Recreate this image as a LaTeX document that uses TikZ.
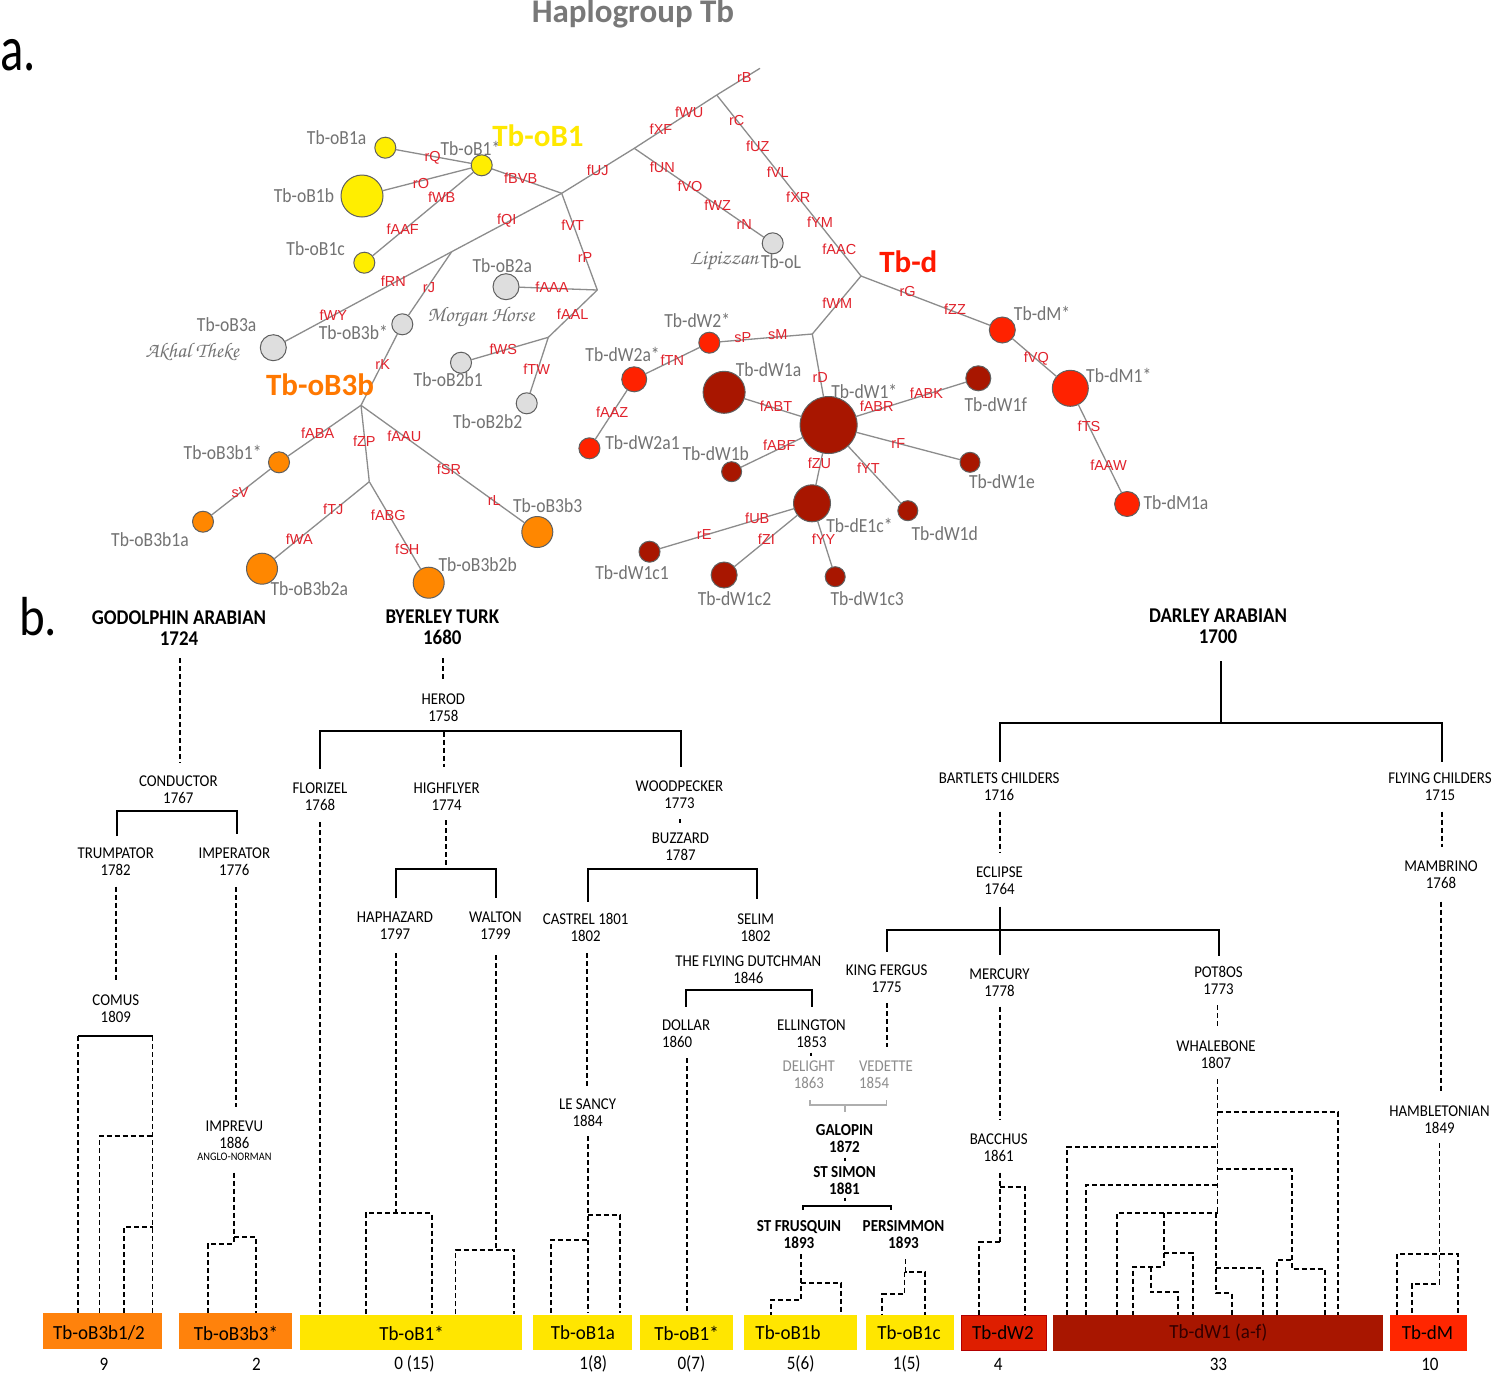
\documentclass[tikz,border=0pt]{standalone}
\usepackage[T1]{fontenc}
\usepackage{fontspec}
\setmainfont{Carlito}
\newfontfamily\calS[FakeStretch=0.88]{Carlito}
\newfontfamily\calP[FakeStretch=0.9]{Carlito}
\newfontfamily\calB[FakeStretch=0.95]{Carlito}
\newfontfamily\arialf{Liberation Sans}
\newcommand\chancery{\fontencoding{T1}\fontfamily{pzc}\fontseries{mb}\fontshape{it}\selectfont}
\definecolor{netgrey}{RGB}{140,140,140}
\definecolor{nodeb}{RGB}{95,95,95}
\definecolor{labgrey}{RGB}{115,115,115}
\definecolor{mutred}{RGB}{225,35,45}
\definecolor{cyel}{RGB}{255,238,0}
\definecolor{cgry}{RGB}{222,222,222}
\definecolor{corg}{RGB}{255,135,0}
\definecolor{cred}{RGB}{255,34,0}
\definecolor{cdrk}{RGB}{168,22,0}
\definecolor{byel}{RGB}{255,230,0}
\definecolor{borg}{RGB}{255,130,12}
\definecolor{bdw2}{RGB}{222,30,0}
\definecolor{bdm}{RGB}{255,38,0}
\definecolor{pgrey}{RGB}{140,140,140}
\definecolor{titlegrey}{RGB}{120,120,120}
\definecolor{bigyel}{RGB}{255,232,0}
\definecolor{bigorg}{RGB}{255,120,0}
\definecolor{bigred}{RGB}{255,25,0}
\tikzset{
 net/.style={draw=netgrey, line width=1.3pt},
 hap/.style={circle, draw=nodeb, line width=1pt, inner sep=0pt},
 mut/.style={text=mutred, font=\arialf\fontsize{14.5}{15}\selectfont},
 hl/.style={text=labgrey, font=\calS\fontsize{20}{22}\selectfont},
 big/.style={font=\bfseries\fontsize{31}{33}\selectfont},
 scr/.style={text=labgrey, font=\chancery\fontsize{21}{22}\selectfont},
 ped/.style={align=center, font=\calP\fontsize{16.5}{17}\selectfont},
 pedb/.style={align=center, font=\calP\bfseries\fontsize{21}{21}\selectfont},
 peds/.style={align=center, font=\calP\bfseries\fontsize{16.8}{17}\selectfont},
 sol/.style={line width=2pt},
 dsh/.style={line width=1.9pt, dash pattern=on 5pt off 3pt},
 hbox/.style={rectangle, minimum height=35.5pt},
 btxt/.style={font=\calB\fontsize{20}{20}\selectfont},
 cnt/.style={font=\calP\fontsize{19}{20}\selectfont},
}
\begin{document}
\begin{tikzpicture}[x=1pt,y=-1pt, every node/.style={inner sep=0pt, outer sep=0pt}]
\useasboundingbox (0,0) rectangle (1495,1374);
\fill[white] (0,0) rectangle (1495,1374);

% ---------- titles ----------
\node[font=\bfseries\fontsize{33}{35}\selectfont, text=titlegrey, anchor=base] (title) at (633,22) {Haplogroup Tb};
\node[font=\fontsize{64}{64}\selectfont, anchor=base west] (la) at (0,70) {\scalebox{0.76}[1]{a.}};
\node[font=\fontsize{55}{55}\selectfont, anchor=base west] (lb) at (19,635) {\scalebox{0.89}[1]{b.}};

% ---------- network nodes ----------
\node[hap, fill=cyel, minimum size=21pt] (oB1a) at (385.3,147.7) {};
\node[hap, fill=cyel, minimum size=21pt] (oB1s) at (481.7,165.3) {};
\node[hap, fill=cyel, minimum size=42pt] (oB1b) at (362,196) {};
\node[hap, fill=cyel, minimum size=21pt] (oB1c) at (364.3,262.7) {};
\node[hap, fill=cgry, minimum size=26pt] (oB2a) at (506,286.7) {};
\node[hap, fill=cgry, minimum size=21pt] (oB3bs) at (402.3,324.3) {};
\node[hap, fill=cgry, minimum size=26pt] (oB3a) at (273.3,347.7) {};
\node[hap, fill=cgry, minimum size=21pt] (oB2b1) at (461,362.7) {};
\node[hap, fill=cgry, minimum size=21pt] (oB2b2) at (526.7,403.3) {};
\node[hap, fill=corg, minimum size=21pt] (oB3b1s) at (279,462.3) {};
\node[hap, fill=corg, minimum size=21pt] (oB3b1a) at (203,521.7) {};
\node[hap, fill=corg, minimum size=31pt] (oB3b2a) at (262,568.7) {};
\node[hap, fill=corg, minimum size=31pt] (oB3b2b) at (428.7,582.7) {};
\node[hap, fill=corg, minimum size=31pt] (oB3b3) at (537.3,532) {};
\node[hap, fill=cgry, minimum size=21pt] (oL) at (772.7,243.3) {};
\node[hap, fill=cred, minimum size=26pt] (dMs) at (1002.3,330) {};
\node[hap, fill=cred, minimum size=36pt] (dM1s) at (1070.3,388.3) {};
\node[hap, fill=cred, minimum size=25pt] (dM1a) at (1127.1,504) {};
\node[hap, fill=cred, minimum size=21pt] (dW2s) at (709.3,342.7) {};
\node[hap, fill=cred, minimum size=25pt] (dW2as) at (634.2,379.3) {};
\node[hap, fill=cred, minimum size=21pt] (dW2a1) at (589.4,448.3) {};
\node[hap, fill=cdrk, minimum size=42pt] (dW1a) at (724.1,392.3) {};
\node[hap, fill=cdrk, minimum size=57pt] (dW1s) at (828.6,425) {};
\node[hap, fill=cdrk, minimum size=25pt] (dW1f) at (978.3,378.3) {};
\node[hap, fill=cdrk, minimum size=20pt] (dW1b) at (731.6,471.7) {};
\node[hap, fill=cdrk, minimum size=20pt] (dW1e) at (970,462.3) {};
\node[hap, fill=cdrk, minimum size=37pt] (dE1cs) at (812,503.3) {};
\node[hap, fill=cdrk, minimum size=20pt] (dW1d) at (907.8,510.7) {};
\node[hap, fill=cdrk, minimum size=21pt] (dW1c1) at (649.5,551.7) {};
\node[hap, fill=cdrk, minimum size=26pt] (dW1c2) at (724.1,575) {};
\node[hap, fill=cdrk, minimum size=20pt] (dW1c3) at (835.2,576.7) {};

\coordinate (J1) at (561.7,193.3);
\coordinate (J2) at (634.3,148.3);
\coordinate (J3) at (716.7,95);
\coordinate (JB) at (760,68.3);
\coordinate (J4) at (861,276);
\coordinate (J5) at (812.3,334);
\coordinate (J6) at (451.7,251.7);
\coordinate (J7) at (597.3,290);
\coordinate (J8) at (548.3,337.3);
\coordinate (J9) at (361,405.3);
\coordinate (J10) at (369.3,481.7);

% ---------- network edges ----------
\draw[net] (oB1a) -- (oB1s);
\draw[net] (oB1b) -- (oB1s);
\draw[net] (oB1c) -- (oB1s);
\draw[net] (oB1s) -- (J1);
\draw[net] (J1) -- (J2);
\draw[net] (J2) -- (J3);
\draw[net] (J3) -- (JB);
\draw[net] (J3) -- (J4);
\draw[net] (J2) -- (oL);
\draw[net] (J1) -- (J6);
\draw[net] (J6) -- (oB3a);
\draw[net] (J6) -- (oB3bs);
\draw[net] (oB3bs) -- (J9);
\draw[net] (J1) -- (J7);
\draw[net] (oB2a) -- (J7);
\draw[net] (J7) -- (J8);
\draw[net] (J8) -- (oB2b1);
\draw[net] (J8) -- (oB2b2);
\draw[net] (J9) -- (oB3b1s);
\draw[net] (oB3b1s) -- (oB3b1a);
\draw[net] (J9) -- (J10);
\draw[net] (J10) -- (oB3b2a);
\draw[net] (J10) -- (oB3b2b);
\draw[net] (J9) -- (oB3b3);
\draw[net] (J4) -- (J5);
\draw[net] (J4) -- (dMs);
\draw[net] (dMs) -- (dM1s);
\draw[net] (dM1s) -- (dM1a);
\draw[net] (J5) -- (dW2s);
\draw[net] (dW2s) -- (dW2as);
\draw[net] (dW2as) -- (dW2a1);
\draw[net] (J5) -- (dW1s);
\draw[net] (dW1s) -- (dW1a);
\draw[net] (dW1s) -- (dW1f);
\draw[net] (dW1s) -- (dW1b);
\draw[net] (dW1s) -- (dW1e);
\draw[net] (dW1s) -- (dW1d);
\draw[net] (dW1s) -- (dE1cs);
\draw[net] (dE1cs) -- (dW1c1);
\draw[net] (dE1cs) -- (dW1c2);
\draw[net] (dE1cs) -- (dW1c3);

% ---------- mutation labels ----------
\node[mut] (m1) at (432.7,157.7) {rQ};
\node[mut] (m2) at (421,183.3) {rO};
\node[mut] (m3) at (441.7,197.7) {fWB};
\node[mut] (m4) at (520.7,178.3) {fBVB};
\node[mut] (m5) at (402.7,229.3) {fAAF};
\node[mut] (m6) at (506.7,221) {fQI};
\node[mut] (m7) at (572.7,225) {fVT};
\node[mut] (m8) at (585,257.3) {rP};
\node[mut] (m9) at (552,287.7) {fAAA};
\node[mut] (m10) at (429,287.3) {rJ};
\node[mut] (m11) at (393.3,281.7) {fRN};
\node[mut] (m12) at (333.3,315) {fWY};
\node[mut] (m13) at (572.7,314) {fAAL};
\node[mut] (m14) at (597.7,170) {fUJ};
\node[mut] (m15) at (661,129.3) {fXF};
\node[mut] (m16) at (689.3,112.7) {fWU};
\node[mut] (m17) at (744.3,77.7) {rB};
\node[mut] (m18) at (736.7,120.7) {rC};
\node[mut] (m19) at (757.7,146) {fUZ};
\node[mut] (m20) at (777.7,172.7) {fVL};
\node[mut] (m21) at (798.3,197.3) {fXR};
\node[mut] (m22) at (820,222.7) {fYM};
\node[mut] (m23) at (839.3,249) {fAAC};
\node[mut] (m24) at (662.3,167.7) {fUN};
\node[mut] (m25) at (690,186) {fVO};
\node[mut] (m26) at (717.7,205) {fWZ};
\node[mut] (m27) at (744.3,224.3) {rN};
\node[mut] (m28) at (907.7,291.7) {rG};
\node[mut] (m29) at (955,309.3) {fZZ};
\node[mut] (m30) at (837.3,303.3) {fWM};
\node[mut] (m31) at (742.7,337.3) {sP};
\node[mut] (m32) at (777.7,335) {sM};
\node[mut] (m33) at (672.3,360) {fTN};
\node[mut] (m34) at (612.2,412.3) {fAAZ};
\node[mut] (m35) at (820.3,377.3) {rD};
\node[mut] (m36) at (776,406.7) {fABT};
\node[mut] (m37) at (876.7,406.7) {fABR};
\node[mut] (m38) at (926.5,393.3) {fABK};
\node[mut] (m39) at (1036.3,358.3) {fVQ};
\node[mut] (m40) at (1089,426) {fTS};
\node[mut] (m41) at (1108.5,465.7) {fAAW};
\node[mut] (m42) at (779.3,445) {fABF};
\node[mut] (m43) at (819.5,463.3) {fZU};
\node[mut] (m44) at (898.3,443.3) {rF};
\node[mut] (m45) at (868.4,468.3) {fYT};
\node[mut] (m46) at (757.3,518.3) {fUB};
\node[mut] (m47) at (704.2,535) {rE};
\node[mut] (m48) at (766.4,539.3) {fZI};
\node[mut] (m49) at (823.6,539.5) {fYY};
\node[mut] (m50) at (382.7,364.3) {rK};
\node[mut] (m51) at (503.3,349.3) {fWS};
\node[mut] (m52) at (536.7,369.3) {fTW};
\node[mut] (m53) at (317.7,433.3) {fABA};
\node[mut] (m54) at (364.3,441.7) {fZP};
\node[mut] (m55) at (404.3,436) {fAAU};
\node[mut] (m56) at (449,469.3) {fSR};
\node[mut] (m57) at (494.3,501) {rL};
\node[mut] (m58) at (240,492.3) {sV};
\node[mut] (m59) at (333.3,509.3) {fTJ};
\node[mut] (m60) at (388.3,515) {fABG};
\node[mut] (m61) at (299.3,539.3) {fWA};
\node[mut] (m62) at (407.3,549.3) {fSH};

% ---------- haplotype labels ----------
\node[hl] (hb1a) at (336.7,137.3) {Tb-oB1a};
\node[hl] (hb1s) at (470.5,148.3) {Tb-oB1*};
\node[hl] (hb1b) at (304,196) {Tb-oB1b};
\node[hl] (hb1c) at (315.7,248.7) {Tb-oB1c};
\node[hl] (hb2a) at (502.3,265.3) {Tb-oB2a};
\node[hl] (hb3a) at (226.7,325) {Tb-oB3a};
\node[hl] (hb3bs) at (353.3,332.3) {Tb-oB3b*};
\node[hl] (hb2b1) at (448.3,380) {Tb-oB2b1};
\node[hl] (hb2b2) at (487.7,422) {Tb-oB2b2};
\node[hl] (hb3b1s) at (222.7,452.7) {Tb-oB3b1*};
\node[hl] (hb3b1a) at (150,539.3) {Tb-oB3b1a};
\node[hl] (hb3b2a) at (309.3,588.3) {Tb-oB3b2a};
\node[hl] (hb3b2b) at (477.7,564.3) {Tb-oB3b2b};
\node[hl] (hb3b3) at (547.7,506) {Tb-oB3b3};
\node[hl] (hoL) at (781,261.7) {Tb-oL};
\node[hl] (hdMs) at (1042.1,313.3) {Tb-dM*};
\node[hl] (hdW2s) at (697.2,320) {Tb-dW2*};
\node[hl] (hdW2as) at (622.6,354) {Tb-dW2a*};
\node[hl] (hdW1a) at (768.5,369.3) {Tb-dW1a};
\node[hl] (hdW1s) at (864.3,391) {Tb-dW1*};
\node[hl] (hdW1f) at (995.7,405) {Tb-dW1f};
\node[hl] (hdM1s) at (1118.8,375) {Tb-dM1*};
\node[hl] (hdW2a1) at (642.5,442.7) {Tb-dW2a1};
\node[hl] (hdW1b) at (715.8,453.3) {Tb-dW1b};
\node[hl] (hdW1e) at (1001.9,481.7) {Tb-dW1e};
\node[hl] (hdE1cs) at (859.5,525) {Tb-dE1c*};
\node[hl] (hdW1d) at (944.7,534) {Tb-dW1d};
\node[hl] (hdM1a) at (1176,503) {Tb-dM1a};
\node[hl] (hdW1c1) at (632.1,572.7) {Tb-dW1c1};
\node[hl] (hdW1c2) at (734.5,598.3) {Tb-dW1c2};
\node[hl] (hdW1c3) at (867.2,598.3) {Tb-dW1c3};
\node[scr] (akhal) at (192.3,352) {Akhal Theke};
\node[scr] (morgan) at (481,317.3) {Morgan Horse};
\node[scr] (lipiz) at (724,261.7) {Lipizzan};
\node[big, text=bigyel] (bigB1) at (538,136) {Tb-oB1};
\node[big, text=bigorg] (bigB3b) at (320,384.3) {Tb-oB3b};
\node[big, text=bigred] (bigd) at (908.3,261.7) {Tb-d};

% ---------- pedigree labels ----------
\node[pedb] (godo) at (179,628) {GODOLPHIN ARABIAN\\1724};
\node[pedb] (byer) at (442.3,627.5) {BYERLEY TURK\\1680};
\node[pedb] (darl) at (1218,626.7) {DARLEY ARABIAN\\1700};
\node[ped] (herod) at (443.3,707.5) {HEROD\\1758};
\node[ped] (cond) at (178.3,789.3) {CONDUCTOR\\1767};
\node[ped] (flor) at (320,796.7) {FLORIZEL\\1768};
\node[ped] (high) at (446.7,796.7) {HIGHFLYER\\1774};
\node[ped] (wood) at (679.5,795) {WOODPECKER\\1773};
\node[ped] (buzz) at (680.5,846.5) {BUZZARD\\1787};
\node[ped] (trum) at (115.7,861.8) {TRUMPATOR\\1782};
\node[ped] (impe) at (234.3,861.8) {IMPERATOR\\1776};
\node[ped] (haph) at (395,925.3) {HAPHAZARD\\1797};
\node[ped] (walt) at (495.5,925.3) {WALTON\\1799};
\node[ped] (cast) at (585.7,927.5) {CASTREL 1801\\1802};
\node[ped] (seli) at (755.7,927.5) {SELIM\\1802};
\node[ped] (fdut) at (748.3,970) {THE FLYING DUTCHMAN\\1846};
\node[ped, align=left, anchor=west] (doll) at (662,1033.5) {DOLLAR\\1860};
\node[ped] (elli) at (811.5,1033.3) {ELLINGTON\\1853};
\node[ped, text=pgrey] (deli) at (808.8,1074.3) {DELIGHT\\1863};
\node[ped, text=pgrey, align=left, anchor=west] (vede) at (859,1074.3) {VEDETTE\\1854};
\node[peds] (galo) at (844.5,1138.3) {GALOPIN\\1872};
\node[peds] (stsi) at (844.5,1181) {ST SIMON\\1881};
\node[peds] (stfr) at (799,1234.3) {ST FRUSQUIN\\1893};
\node[peds] (pers) at (903.5,1234.3) {PERSIMMON\\1893};
\node[ped] (comu) at (115.8,1009) {COMUS\\1809};
\node[ped] (impr) at (234.4,1134.7) {IMPREVU\\1886};
\node[font=\calP\fontsize{11.5}{12}\selectfont] (anglo) at (234.4,1157) {ANGLO-NORMAN};
\node[ped] (lesa) at (587.6,1112.5) {LE SANCY\\1884};
\node[ped] (king) at (886.7,979) {KING FERGUS\\1775};
\node[ped] (merc) at (999.5,982.3) {MERCURY\\1778};
\node[ped] (pot8) at (1218.5,980.7) {POT8OS\\1773};
\node[ped] (whal) at (1216,1054.2) {WHALEBONE\\1807};
\node[ped] (bacc) at (998.7,1147.7) {BACCHUS\\1861};
\node[ped] (hamb) at (1439.5,1119.3) {HAMBLETONIAN\\1849};
\node[ped] (bart) at (999.2,786.7) {BARTLETS CHILDERS\\1716};
\node[ped] (flyc) at (1440,786.7) {FLYING CHILDERS\\1715};
\node[ped] (ecli) at (999.5,881) {ECLIPSE\\1764};
\node[ped] (mamb) at (1441,874.3) {MAMBRINO\\1768};

% ---------- pedigree solid brackets ----------
\draw[sol] (1221,661) -- (1221,723.3);
\draw[sol] (999.5,762) -- (999.5,723.3) -- (1442,723.3) -- (1442,762);
\draw[sol] (320,769) -- (320,730.7) -- (680.5,730.7) -- (680.5,767);
\draw[sol] (117,836) -- (117,811) -- (236.5,811) -- (236.5,834);
\draw[sol] (395.7,898.3) -- (395.7,869.3) -- (495.7,869.3) -- (495.7,898.3);
\draw[sol] (588.3,901.7) -- (588.3,869.3) -- (757.3,869.3) -- (757.3,899.3);
\draw[sol] (999.8,906.7) -- (999.8,955);
\draw[sol] (886.7,951.7) -- (886.7,930) -- (1219,930) -- (1219,955.7);
\draw[sol] (686,1006.7) -- (686,990) -- (812.2,990) -- (812.2,1006.7);
\draw[sol] (802.5,1209.5) -- (802.5,1206) -- (890.5,1206) -- (890.5,1209.5);
\draw[sol] (78,1036) -- (152.5,1036);
\draw[pgrey!70, line width=1.6pt] (809.7,1100) -- (809.7,1105) -- (886.6,1105) -- (886.6,1100);
\draw[pgrey!70, line width=1.6pt] (844.8,1105) -- (844.8,1111.7);
\draw[line width=1.8pt] (680.3,819) -- (680.3,822.5);
\draw[line width=1.8pt] (811.2,1052.5) -- (811.2,1055.5);
\draw[line width=1.8pt] (845,1157.5) -- (845,1160.5);
\draw[line width=1.8pt] (845,1197.5) -- (845,1200.5);

% ---------- pedigree dashed lines ----------
\draw[dsh] (180,658) -- (180,763);
\draw[dsh] (443.3,658) -- (443.3,680);
\draw[dsh] (444.3,731.7) -- (444.3,766.7);
\draw[dsh] (116,886.7) -- (116,982);
\draw[dsh] (235.7,887) -- (235.7,1106.7);
\draw[dsh] (320.3,822) -- (320.3,1314);
\draw[dsh] (445.7,820) -- (445.7,866.7);
\draw[dsh] (395.7,953) -- (395.7,1213.3);
\draw[dsh] (366,1314) -- (366,1213.3) -- (432,1213.3) -- (432,1314);
\draw[dsh] (495.7,955) -- (495.7,1250);
\draw[dsh] (455.5,1314) -- (455.5,1250) -- (514.4,1250) -- (514.4,1314);
\draw[dsh] (587.3,953.3) -- (587.3,1088.3);
\draw[dsh] (587.6,1136) -- (587.6,1313);
\draw[dsh] (587.6,1215) -- (619.6,1215) -- (619.6,1313);
\draw[dsh] (551.2,1313) -- (551.2,1240) -- (587.6,1240);
\draw[dsh] (686.6,1058.3) -- (686.6,1314);
\draw[dsh] (886.6,1003.3) -- (886.6,1046.7);
\draw[dsh] (999.6,1006.7) -- (999.6,1120);
\draw[dsh] (999.6,1172.7) -- (999.6,1242.3);
\draw[dsh] (999.6,1187.3) -- (1024.6,1187.3) -- (1024.6,1315);
\draw[dsh] (979.4,1315) -- (979.4,1242.3) -- (999.6,1242.3);
\draw[dsh] (1000,811.7) -- (1000,853.3);
\draw[dsh] (1442,811.7) -- (1442,846.7);
\draw[dsh] (1441,901.7) -- (1441,1093.3);
\draw[dsh] (1217.5,1005) -- (1217.5,1028.3);
% Whalebone
\draw[dsh] (1217.5,1079.3) -- (1217.5,1213.3);
\draw[dsh] (1217.5,1112.3) -- (1337.7,1112.3) -- (1337.7,1315);
\draw[dsh] (1067.3,1315) -- (1067.3,1146.7) -- (1217.5,1146.7);
\draw[dsh] (1217.5,1169.3) -- (1291.7,1169.3) -- (1291.7,1269.3) -- (1325,1269.3) -- (1325,1315);
\draw[dsh] (1277.3,1315) -- (1277.3,1260) -- (1291.7,1260);
\draw[dsh] (1086,1315) -- (1086,1185) -- (1217.5,1185);
\draw[dsh] (1116.7,1315) -- (1116.7,1213.3) -- (1217.5,1213.3);
\draw[dsh] (1216,1213.3) -- (1216,1293.3) -- (1231.7,1293.3) -- (1231.7,1315);
\draw[dsh] (1216,1268.3) -- (1262.7,1268.3) -- (1262.7,1315);
\draw[dsh] (1164,1213.3) -- (1164,1266.7) -- (1133.3,1266.7) -- (1133.3,1315);
\draw[dsh] (1164,1252.7) -- (1192.7,1252.7) -- (1192.7,1315);
\draw[dsh] (1150.7,1266.7) -- (1150.7,1292.3) -- (1177.7,1292.3) -- (1177.7,1315);
% Hambletonian
\draw[dsh] (1439.5,1143.3) -- (1439.5,1284) -- (1412.1,1284) -- (1412.1,1315);
\draw[dsh] (1397.2,1315) -- (1397.2,1254) -- (1457.8,1254) -- (1457.8,1315);
% Comus
\draw[dsh] (78,1036) -- (78,1313);
\draw[dsh] (152.5,1036) -- (152.5,1313);
\draw[dsh] (99.5,1313) -- (99.5,1136) -- (152.5,1136);
\draw[dsh] (124,1313) -- (124,1227.3) -- (152.5,1227.3);
% Imprevu
\draw[dsh] (234.4,1172.7) -- (234.4,1244.3);
\draw[dsh] (234.4,1236.7) -- (256,1236.7) -- (256,1313);
\draw[dsh] (208,1313) -- (208,1244.3) -- (234.4,1244.3);
% St Frusquin
\draw[dsh] (801,1254) -- (801,1300) -- (771.3,1300) -- (771.3,1315);
\draw[dsh] (801,1282.7) -- (841,1282.7) -- (841,1315);
% Persimmon
\draw[dsh] (905.5,1259.3) -- (905.5,1271.7) -- (925.1,1271.7) -- (925.1,1315);
\draw[dsh] (904.5,1271.7) -- (904.5,1294) -- (882.3,1294) -- (882.3,1315);

% ---------- bottom boxes ----------
\node[hbox, fill=borg, minimum width=119pt] (b1) at (102.5,1331.2) {};
\node[hbox, fill=borg, minimum width=113pt] (b2) at (235.5,1331.2) {};
\node[hbox, fill=byel, minimum width=222pt] (b3) at (411,1332.5) {};
\node[hbox, fill=byel, minimum width=99pt] (b4) at (582.5,1332.5) {};
\node[hbox, fill=byel, minimum width=93pt] (b5) at (686.5,1332.5) {};
\node[hbox, fill=byel, minimum width=113pt] (b6) at (800.5,1332.5) {};
\node[hbox, fill=byel, minimum width=88pt] (b7) at (910,1332.5) {};
\node[hbox, fill=bdw2, draw=red!70!black, line width=0.8pt, minimum width=85pt] (b8) at (1004,1333) {};
\node[hbox, fill=cdrk, minimum width=330pt] (b9) at (1218,1333) {};
\node[hbox, fill=bdm, minimum width=77pt] (b10) at (1428.5,1333) {};

\node[btxt] (t1) at (99,1333) {Tb-oB3b1/2};
\node[btxt] (t2) at (236,1333) {Tb-oB3b3*};
\node[btxt] (t3) at (411.5,1333) {Tb-oB1*};
\node[btxt] (t4) at (583,1333) {Tb-oB1a};
\node[btxt] (t5) at (686.6,1333) {Tb-oB1*};
\node[btxt] (t6) at (788,1333) {Tb-oB1b};
\node[btxt] (t7) at (909,1333) {Tb-oB1c};
\node[btxt] (t8) at (1003,1333) {Tb-dW2};
\node[btxt, text=black!80!red] (t9) at (1218.4,1333) {Tb-dW1 (a-f)};
\node[btxt] (t10) at (1427.5,1333) {Tb-dM};

\node[cnt] (n1) at (104,1364) {9};
\node[cnt] (n2) at (256.5,1364) {2};
\node[cnt] (n3) at (414.4,1364) {0 (15)};
\node[cnt] (n4) at (593.3,1364) {1(8)};
\node[cnt] (n5) at (691.4,1364) {0(7)};
\node[cnt] (n6) at (800.6,1364) {5(6)};
\node[cnt] (n7) at (906.8,1364) {1(5)};
\node[cnt] (n8) at (998.2,1364) {4};
\node[cnt] (n9) at (1218.4,1364) {33};
\node[cnt] (n10) at (1429.9,1364) {10};
\end{tikzpicture}
\end{document}
